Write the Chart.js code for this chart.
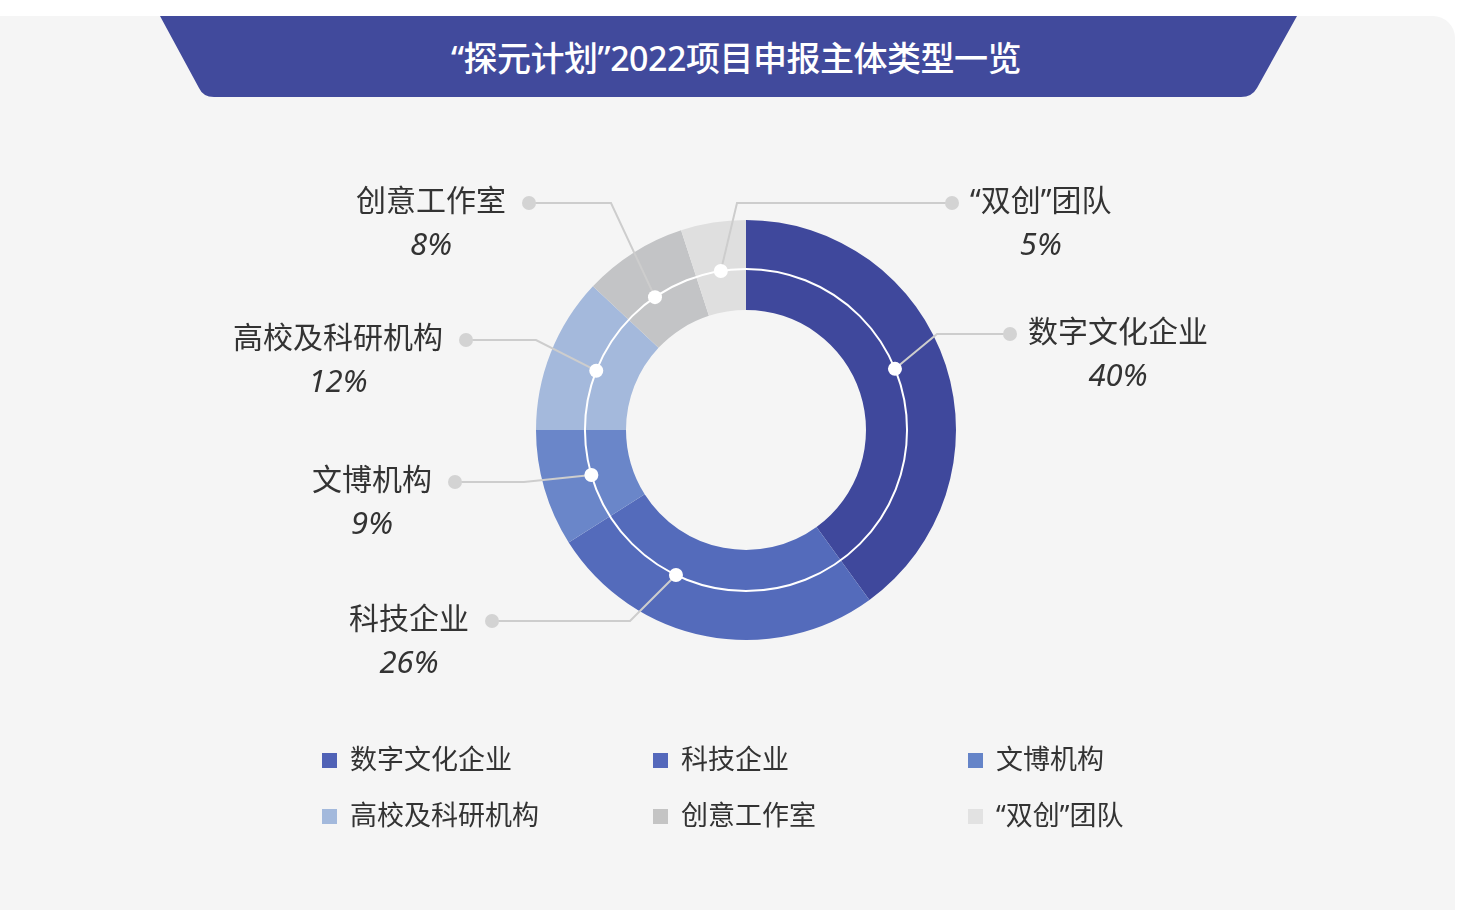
<!DOCTYPE html>
<html lang="zh">
<head>
<meta charset="utf-8">
<title>“探元计划”2022项目申报主体类型一览</title>
<script src="https://cdn.jsdelivr.net/npm/chart.js@4/dist/chart.umd.min.js"></script>
<style>
  html, body { margin: 0; padding: 0; background: #fff; width: 1462px; height: 910px; overflow: hidden; }
  body { position: relative; font-family: "Noto Sans", "Noto Sans CJK SC", sans-serif; }
  .card { position: absolute; left: -30px; top: 16px; width: 1485px; height: 940px; background: #f5f5f5; border-radius: 22px; }
  #banner { position: absolute; left: 0; top: 0; }
  .title { position: absolute; left: 0; width: 1472px; top: 32px; text-align: center; color: #fff;
           font-size: 34px; font-weight: 500; line-height: 52px; letter-spacing: -0.5px; }
  #chart { position: absolute; left: 0; top: 0; }
  .legend-item { position: absolute; font-size: 27px; color: #333; line-height: 36px; white-space: nowrap; }
  .legend-item i { display: inline-block; width: 15px; height: 15px; margin-right: 13px; vertical-align: 1px; }
</style>
</head>
<body>
<div class="card"></div>
<svg id="banner" width="1462" height="110">
  <path d="M160,16 L1297,16 L1257,88 Q1252,97 1241,97 L214,97 Q203,97 199,88 Z" fill="#414a9c"/>
</svg>
<div class="title">“探元计划”2022项目申报主体类型一览</div>
<canvas id="chart" width="1462" height="910"></canvas>
<div id="legend"></div>

<script>
// data
const categories = ["数字文化企业", "科技企业", "文博机构", "高校及科研机构", "创意工作室", "“双创”团队"];
const shares = [40, 26, 9, 12, 8, 5];
const sliceColors = ["#3f489c", "#546bbb", "#6a86c9", "#a4b9dc", "#c3c4c6", "#dfdfdf"];
const legendColors = ["#5062b6", "#5468bb", "#6584c8", "#a3b9dc", "#c4c4c4", "#e2e2e2"];

// label layout (where each leader ends), not data
const leaders = [
  { frac: 0.47, ex: 937, y: 334, x: 1010, side: "right" },
  { frac: 0.66, ex: 630, y: 621, x: 492, side: "left" },
  { frac: 0.5,  ex: 524, y: 482, x: 455, side: "left" },
  { frac: 0.5,  ex: 536, y: 340, x: 466, side: "left" },
  { frac: 0.43, ex: 611, y: 203, x: 529, side: "left" },
  { frac: 0.5,  ex: 737, y: 203, x: 952, side: "right" },
];

const FONT = '"Noto Sans", "Noto Sans CJK SC", sans-serif';

const ringLabels = {
  id: "ringLabels",
  afterDatasetsDraw(chart) {
    const ctx = chart.ctx;
    const arcs = chart.getDatasetMeta(0).data;
    if (!arcs.length) return;
    const cx = arcs[0].x, cy = arcs[0].y;
    const ringR = arcs[0].innerRadius + (arcs[0].outerRadius - arcs[0].innerRadius) * 0.456;

    ctx.save();
    // thin white ring through the donut
    ctx.beginPath();
    ctx.arc(cx, cy, ringR, 0, Math.PI * 2);
    ctx.strokeStyle = "#ffffff";
    ctx.lineWidth = 2;
    ctx.stroke();

    const dots = arcs.map((a, i) => {
      const ang = a.startAngle + (a.endAngle - a.startAngle) * leaders[i].frac;
      return { x: cx + ringR * Math.cos(ang), y: cy + ringR * Math.sin(ang) };
    });

    // leader lines
    ctx.strokeStyle = "#cdcdcd";
    ctx.lineWidth = 2;
    leaders.forEach((l, i) => {
      ctx.beginPath();
      ctx.moveTo(dots[i].x, dots[i].y);
      ctx.lineTo(l.ex, l.y);
      ctx.lineTo(l.x, l.y);
      ctx.stroke();
      ctx.beginPath();
      ctx.arc(l.x, l.y, 7, 0, Math.PI * 2);
      ctx.fillStyle = "#d3d3d3";
      ctx.fill();
    });

    // white dots on the ring
    ctx.fillStyle = "#ffffff";
    dots.forEach(d => {
      ctx.beginPath();
      ctx.arc(d.x, d.y, 7, 0, Math.PI * 2);
      ctx.fill();
    });

    // labels
    ctx.fillStyle = "#333333";
    ctx.textBaseline = "middle";
    leaders.forEach((l, i) => {
      ctx.font = "30px " + FONT;
      const name = categories[i];
      const w = ctx.measureText(name).width;
      const left = l.side === "left" ? l.x - 23 - w : l.x + 18;
      ctx.textAlign = "left";
      ctx.fillText(name, left, l.y - 1);
      ctx.textAlign = "center";
      ctx.font = "italic 31px " + FONT;
      ctx.fillText(shares[i] + "%", left + w / 2, l.y + 43);
    });
    ctx.restore();
  }
};

new Chart(document.getElementById("chart"), {
  type: "doughnut",
  data: {
    labels: categories,
    datasets: [{
      data: shares,
      backgroundColor: sliceColors,
      borderWidth: 0,
      hoverOffset: 0
    }]
  },
  options: {
    responsive: false,
    devicePixelRatio: 1,
    animation: false,
    cutout: 120,
    layout: { padding: { left: 536, right: 506, top: 220, bottom: 270 } },
    plugins: { legend: { display: false }, tooltip: { enabled: false } }
  },
  plugins: [ringLabels]
});

// legend, 3 columns x 2 rows
const legendCols = [322, 653, 968];
const legendRows = [759, 815];
const legendEl = document.getElementById("legend");
categories.forEach((c, i) => {
  const d = document.createElement("div");
  d.className = "legend-item";
  d.style.left = legendCols[i % 3] + "px";
  d.style.top = (legendRows[Math.floor(i / 3)] - 18) + "px";
  d.innerHTML = `<i style="background:${legendColors[i]}"></i>${c}`;
  legendEl.appendChild(d);
});
</script>
</body>
</html>
